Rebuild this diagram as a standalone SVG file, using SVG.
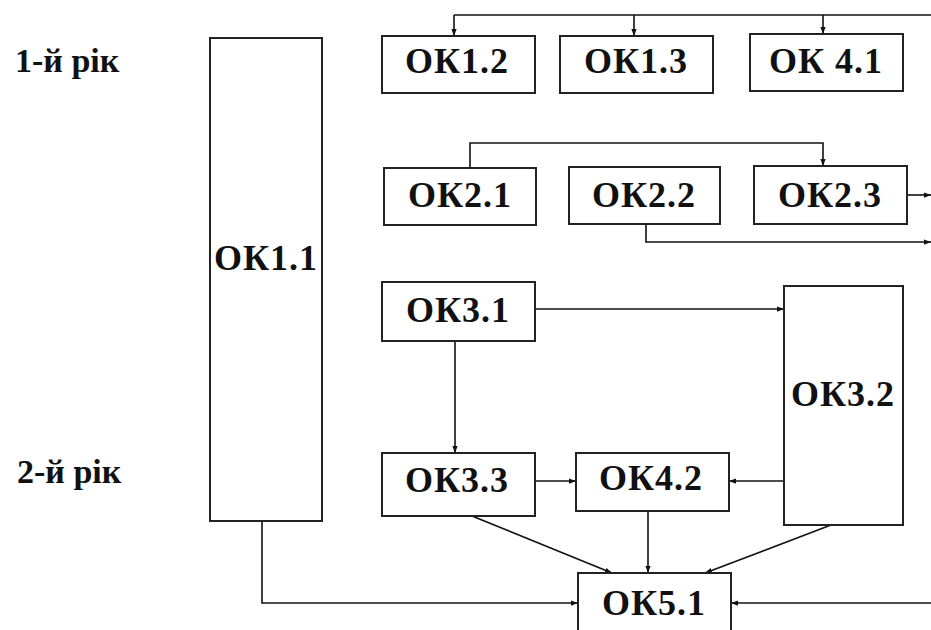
<svg xmlns="http://www.w3.org/2000/svg" width="931" height="630" viewBox="0 0 931 630">
<defs>
<style>
.box{fill:#fff;stroke:#222;stroke-width:2}
.t{font-family:'Liberation Serif','Times New Roman',serif;font-weight:700;font-size:36px;letter-spacing:1px;fill:#111;text-anchor:middle}
.lbl{font-family:'Liberation Serif','Times New Roman',serif;font-weight:700;font-size:34px;fill:#111}
.c{fill:none;stroke:#111;stroke-width:1.6}
</style>
<marker id="ah" viewBox="0 0 8 8" refX="8" refY="4" markerWidth="7" markerHeight="7" orient="auto" markerUnits="userSpaceOnUse"><path d="M0,1 L8,4 L0,7 z" fill="#111"/></marker>
</defs>
<rect width="931" height="630" fill="#fff"/>

<g id="label-year1"><text class="lbl" x="15" y="72">1-й рік</text></g>
<g id="label-year2"><text class="lbl" x="17" y="483">2-й рік</text></g>

<g id="connectors">
<path class="c" d="M454,15 H931"/>
<path class="c" d="M454,15 V36" marker-end="url(#ah)"/>
<path class="c" d="M634,15 V36" marker-end="url(#ah)"/>
<path class="c" d="M823,15 V34" marker-end="url(#ah)"/>
<path class="c" d="M470,168 V143 H823 V166" marker-end="url(#ah)"/>
<path class="c" d="M907,195 H931" marker-end="url(#ah)"/>
<path class="c" d="M646,224 V242 H931" marker-end="url(#ah)"/>
<path class="c" d="M535,309 H784" marker-end="url(#ah)"/>
<path class="c" d="M455,341 V453" marker-end="url(#ah)"/>
<path class="c" d="M535,481 H576" marker-end="url(#ah)"/>
<path class="c" d="M784,481 H729" marker-end="url(#ah)"/>
<path class="c" d="M648,511 V573" marker-end="url(#ah)"/>
<path class="c" d="M472,516 L612,573" marker-end="url(#ah)"/>
<path class="c" d="M831,525 L705,573" marker-end="url(#ah)"/>
<path class="c" d="M262,521 V603 H578" marker-end="url(#ah)"/>
<path class="c" d="M931,603 H731" marker-end="url(#ah)"/>
</g>

<g id="OK1.1"><rect class="box" x="210" y="38" width="112" height="483"/><text class="t" x="266" y="270">ОК1.1</text></g>
<g id="OK1.2"><rect class="box" x="382" y="36" width="153" height="57"/><text class="t" x="457" y="73">ОК1.2</text></g>
<g id="OK1.3"><rect class="box" x="560" y="36" width="153" height="57"/><text class="t" x="636" y="73">ОК1.3</text></g>
<g id="OK4.1"><rect class="box" x="750" y="34" width="153" height="57"/><text class="t" x="826" y="73">ОК 4.1</text></g>
<g id="OK2.1"><rect class="box" x="384" y="168" width="152" height="57"/><text class="t" x="460" y="207">ОК2.1</text></g>
<g id="OK2.2"><rect class="box" x="569" y="167" width="151" height="57"/><text class="t" x="644" y="207">ОК2.2</text></g>
<g id="OK2.3"><rect class="box" x="754" y="166" width="153" height="58"/><text class="t" x="830" y="207">ОК2.3</text></g>
<g id="OK3.1"><rect class="box" x="382" y="282" width="153" height="59"/><text class="t" x="458" y="322">ОК3.1</text></g>
<g id="OK3.2"><rect class="box" x="784" y="286" width="119" height="239"/><text class="t" x="843" y="406">ОК3.2</text></g>
<g id="OK3.3"><rect class="box" x="382" y="453" width="153" height="63"/><text class="t" x="457" y="492">ОК3.3</text></g>
<g id="OK4.2"><rect class="box" x="576" y="453" width="153" height="58"/><text class="t" x="651" y="490">ОК4.2</text></g>
<g id="OK5.1"><rect class="box" x="578" y="573" width="153" height="70"/><text class="t" x="654" y="615">ОК5.1</text></g>
</svg>
